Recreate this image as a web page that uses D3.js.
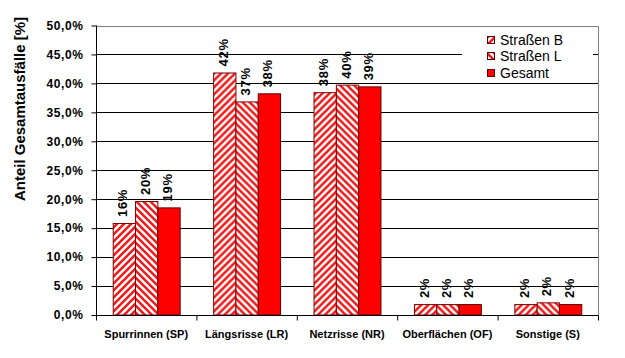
<!DOCTYPE html>
<html>
<head>
<meta charset="utf-8">
<script src="https://cdn.jsdelivr.net/npm/d3@7"></script>
<style>
  html, body { margin: 0; padding: 0; background: #fff; }
  svg { display: block; font-family: Arial, "Liberation Sans", sans-serif; }
</style>
</head>
<body>
<svg id="chart" width="625" height="358"></svg>
<script>
const categories = ["Spurrinnen (SP)", "Längsrisse (LR)", "Netzrisse (NR)", "Oberflächen (OF)", "Sonstige (S)"];
const seriesNames = ["Straßen B", "Straßen L", "Gesamt"];
const strassenB = [15.8, 41.8, 38.4, 1.8, 1.8];
const strassenL = [19.6, 36.8, 39.7, 1.8, 2.1];
const gesamt = [18.5, 38.2, 39.4, 1.8, 1.8];
const yTicks = [0, 5, 10, 15, 20, 25, 30, 35, 40, 45, 50];
const yTitle = "Anteil Gesamtausfälle [%]";

const seriesValues = [strassenB, strassenL, gesamt];
const fills = ["url(#hatchB)", "url(#hatchL)", "#ff0000"];

const svg = d3.select("#chart");
const pLeft = 96, pRight = 598, pTop = 25.5, pBottom = 315;

const x = d3.scaleBand().domain(categories).range([pLeft, pRight]).padding(0);
const bw = x.bandwidth();
const x1 = d3.scaleBand().domain(seriesNames).range([bw / 6, bw * 5 / 6]).padding(0);
const y = d3.scaleLinear().domain([0, 50]).range([pBottom, pTop]);

// patterns
const defs = svg.append("defs");
function hatch(id, dir) {
  const p = defs.append("pattern").attr("id", id).attr("patternUnits", "userSpaceOnUse")
    .attr("width", 7).attr("height", 7);
  p.append("rect").attr("width", 7).attr("height", 7).attr("fill", "#fff");
  const d = dir === "/" ? "M-1,8 L8,-1 M-4.5,4.5 L4.5,-4.5 M2.5,11.5 L11.5,2.5"
                        : "M-1,-1 L8,8 M-4.5,2.5 L4.5,11.5 M2.5,-4.5 L11.5,4.5";
  p.append("path").attr("d", d).attr("stroke", "#ee1c1c").attr("stroke-width", 2.6);
}
hatch("hatchB", "/");
hatch("hatchL", "\\");

// gridlines
svg.append("g").selectAll("line").data(yTicks.filter(t => t > 0 && t < 50)).join("line")
  .attr("x1", pLeft).attr("x2", pRight).attr("y1", d => Math.round(y(d)) + 0.5).attr("y2", d => Math.round(y(d)) + 0.5)
  .attr("stroke", "#000").attr("stroke-width", 1);
// plot border top/right
svg.append("path").attr("d", `M${pLeft},${Math.round(pTop) + 0.5}H${pRight + 0.5}V${pBottom}`)
  .attr("fill", "none").attr("stroke", "#808080");

// bars
const groups = svg.append("g").selectAll("g").data(categories).join("g")
  .attr("transform", d => `translate(${x(d)},0)`);
groups.selectAll("rect").data((d, i) => seriesNames.map((s, j) => ({ s, j, v: seriesValues[j][i] }))).join("rect")
  .attr("x", d => x1(d.s) + 0.5).attr("width", x1.bandwidth())
  .attr("y", d => y(d.v)).attr("height", d => pBottom - y(d.v))
  .attr("fill", d => fills[d.j]).attr("stroke", d => d.j === 2 ? "#600000" : "#800000").attr("stroke-width", 1);

// bar labels
groups.selectAll("text").data((d, i) => seriesNames.map((s, j) => ({ s, j, v: seriesValues[j][i] }))).join("text")
  .attr("transform", d => `translate(${x1(d.s) + x1.bandwidth() / 2 + 3.5},${y(d.v) - 6.5}) rotate(-90)`)
  .attr("font-size", 13).attr("font-weight", "bold").attr("letter-spacing", 0.7)
  .text(d => Math.round(d.v) + "%");

// y axis
const yAxis = d3.axisLeft(y).tickValues(yTicks).tickSize(5).tickPadding(8)
  .tickFormat(d => d.toFixed(1).replace(".", ",") + "%");
const ya = svg.append("g").attr("transform", `translate(${pLeft + 0.5},0)`).call(yAxis);
ya.select(".domain").attr("d", `M0,${pTop}V${pBottom}`).attr("stroke", "#000");
ya.selectAll(".tick line").attr("stroke", "#000");
ya.selectAll(".tick text").attr("font-size", 12).attr("font-weight", "bold")
  .attr("font-family", "Arial, 'Liberation Sans', sans-serif").attr("fill", "#000").attr("letter-spacing", 0.6);

// x axis
const xa = svg.append("g").attr("transform", `translate(0,${pBottom + 0.5})`);
xa.append("line").attr("x1", pLeft).attr("x2", pRight + 0.5).attr("stroke", "#000");
xa.selectAll("line.t").data(categories.concat(["__end"])).join("line").attr("class", "t")
  .attr("x1", d => (d === "__end" ? pRight : x(d)) + 0.5).attr("x2", d => (d === "__end" ? pRight : x(d)) + 0.5)
  .attr("y1", 0).attr("y2", 5).attr("stroke", "#000");
xa.selectAll("text").data(categories).join("text")
  .attr("x", d => x(d) + bw / 2).attr("y", 22.5).attr("text-anchor", "middle")
  .attr("font-size", 11).attr("font-weight", "bold").text(d => d);

// y title
svg.append("text").attr("transform", "translate(25,109) rotate(-90)").attr("text-anchor", "middle")
  .attr("font-size", 15).attr("font-weight", "bold").text(yTitle);

// legend
const lg = svg.append("g");
lg.append("rect").attr("x", 462).attr("y", 27).attr("width", 131).attr("height", 53).attr("fill", "#fff");
const legendY = [40, 56, 73];
const legendFills = ["url(#hatchB)", "url(#hatchL)", "#ff0000"];
seriesNames.forEach((s, i) => {
  lg.append("rect").attr("x", 487.5).attr("y", legendY[i] - 3.5).attr("width", 7).attr("height", 7)
    .attr("fill", legendFills[i]).attr("stroke", "#600000");
  lg.append("text").attr("x", 500).attr("y", legendY[i] + 5).attr("font-size", 14).text(s);
});
</script>
</body>
</html>
